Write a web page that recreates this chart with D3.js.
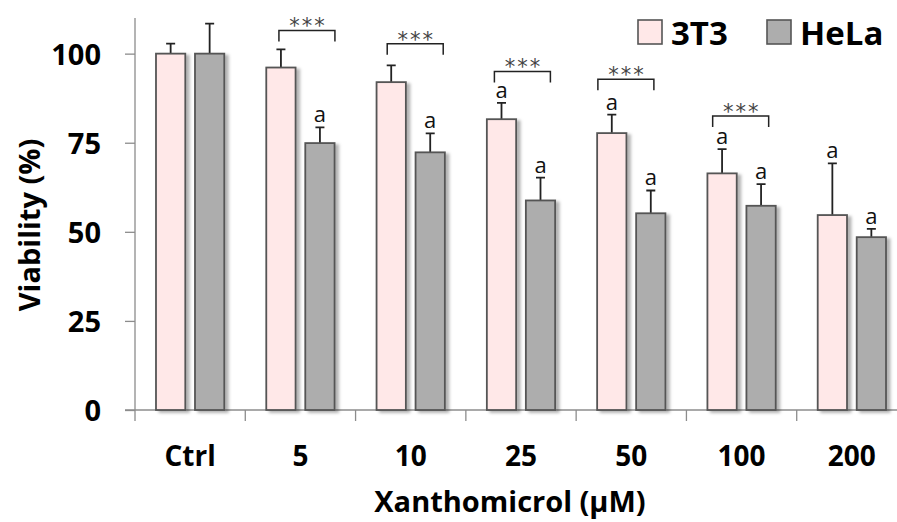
<!DOCTYPE html>
<html><head><meta charset="utf-8">
<script src="https://cdn.jsdelivr.net/npm/d3@7"></script>
<style>body{margin:0;background:#fff}svg{display:block}</style>
</head><body><svg id="c" width="897" height="522"></svg>
<script>
const categories = ["Ctrl","5","10","25","50","100","200"];
const seriesNames = ["3T3","HeLa"];
const mean3T3 = [100, 96.1, 92.0, 81.6, 77.7, 66.4, 54.7];
const err3T3  = [2.8, 5.1, 4.7, 4.6, 5.2, 6.8, 14.5];
const meanHeLa = [100, 74.9, 72.3, 58.8, 55.2, 57.3, 48.5];
const errHeLa  = [8.4, 4.4, 5.3, 6.4, 6.4, 6.1, 2.3];
const mark3T3  = ["", "", "", "a", "a", "a", "a"];
const markHeLa = ["", "a", "a", "a", "a", "a", "a"];
const sigCats  = ["5","10","25","50","100"];
const sigLevel = [106.5, 102.8, 95.0, 92.8, 82.5];
const sigLabel = ["***","***","***","***","***"];
const yTicks = [0, 25, 50, 75, 100];

// layout / style
const sigShift = [6.5, 4.5, 1.4, -5.4, -0.9];
const colors = ["#FFE8E8", "#ADADAD"];
const font = "'Open Sans', Lato, sans-serif";
const svg = d3.select("#c");
const x0 = 135, x1 = 907, yTop = 18, yBot = 410;
const x = d3.scaleBand().domain(categories).range([x0, x1]).paddingInner(0).paddingOuter(0);
const y = d3.scaleLinear().domain([0, 110]).range([yBot, yTop]);
const bw = 29.3, off = 19.5;

const defs = svg.append("defs");
const f = defs.append("filter").attr("id","sh").attr("x","-20%").attr("y","-5%").attr("width","160%").attr("height","110%");
f.append("feDropShadow").attr("dx",3.5).attr("dy",2).attr("stdDeviation",1.5).attr("flood-color","#000").attr("flood-opacity",0.3);

// y axis
const ya = svg.append("g").attr("transform",`translate(${x0},0)`)
  .call(d3.axisLeft(y).tickValues(yTicks).tickSize(10).tickPadding(24));
ya.select(".domain").attr("stroke","#8c8c8c").attr("stroke-width",1.3).attr("d",`M0,${yBot}V${yTop}`);
ya.selectAll(".tick line").attr("stroke","#8c8c8c").attr("stroke-width",1.3);
ya.selectAll(".tick text").attr("font-family",font).attr("font-weight","bold").attr("font-size",29).attr("fill","#000").attr("dy","0.36em");

// x axis
const xa = svg.append("g").attr("transform",`translate(0,${yBot})`)
  .call(d3.axisBottom(x).tickSize(0));
xa.select(".domain").attr("stroke","#8c8c8c").attr("stroke-width",1.3).attr("d",`M${x0-10},0H${x1}`);
xa.selectAll(".tick text").attr("font-family",font).attr("font-weight","bold").attr("font-size",28).attr("fill","#000")
  .attr("y",56).attr("dy",0);
svg.append("g").selectAll("line").data(categories).join("line")
  .attr("x1",d=>x(d)).attr("x2",d=>x(d)).attr("y1",yBot).attr("y2",yBot+11)
  .attr("stroke","#8c8c8c").attr("stroke-width",1.3);

const groups = [
  {m: mean3T3, e: err3T3, a: mark3T3, dx: -off, c: colors[0]},
  {m: meanHeLa, e: errHeLa, a: markHeLa, dx: off, c: colors[1]}
];
groups.forEach(g => {
  const cx = (i) => x(categories[i]) + x.bandwidth()/2 + g.dx;
  const gg = svg.append("g");
  gg.selectAll("path.err").data(g.m).join("path").attr("class","err")
    .attr("d",(d,i)=>`M${cx(i)},${y(d)}V${y(d+g.e[i])}M${cx(i)-4.5},${y(d+g.e[i])}H${cx(i)+4.5}`)
    .attr("stroke","#222").attr("stroke-width",1.8).attr("fill","none");
  gg.selectAll("rect").data(g.m).join("rect")
    .attr("x",(d,i)=>cx(i)-bw/2).attr("width",bw)
    .attr("y",d=>y(d)).attr("height",d=>yBot-y(d))
    .attr("fill",g.c).attr("stroke","#555").attr("stroke-width",1.8).attr("filter","url(#sh)");
  gg.selectAll("text").data(g.m).join("text")
    .attr("x",(d,i)=>cx(i)).attr("y",(d,i)=>y(d+g.e[i])-5)
    .attr("text-anchor","middle").attr("font-family",font).attr("font-size",22).attr("fill","#111")
    .text((d,i)=>g.a[i]);
});

// significance brackets
const sg = svg.append("g");
sigCats.forEach((c,i)=>{
  const cx = x(c) + x.bandwidth()/2 + sigShift[i];
  const yt = y(sigLevel[i]);
  sg.append("path").attr("d",`M${cx-28},${yt+11}V${yt}H${cx+28}V${yt+11}`)
    .attr("stroke","#222").attr("stroke-width",1.5).attr("fill","none");
  sg.append("text").attr("x",cx+1).attr("y",yt+3).attr("text-anchor","middle").attr("letter-spacing",2)
    .attr("font-family","'DejaVu Sans', sans-serif").attr("font-size",21).attr("fill","#444").text(sigLabel[i]);
});

// legend
const lg = svg.append("g");
const lx = [638, 767];
seriesNames.forEach((n,i)=>{
  lg.append("rect").attr("x",lx[i]).attr("y",20).attr("width",24).attr("height",24)
    .attr("fill",colors[i]).attr("stroke","#555").attr("stroke-width",1.6);
  lg.append("text").attr("x",lx[i]+33).attr("y",44.5).attr("font-family",font).attr("font-weight","bold")
    .attr("font-size",33).attr("fill","#000").text(n);
});

// axis titles
svg.append("text").attr("transform","translate(40,225) rotate(-90)").attr("text-anchor","middle")
  .attr("font-family",font).attr("font-weight","bold").attr("font-size",29).attr("fill","#000").text("Viability (%)");
svg.append("text").attr("x",510).attr("y",512).attr("text-anchor","middle")
  .attr("font-family",font).attr("font-weight","bold").attr("font-size",29).attr("fill","#000").text("Xanthomicrol (μM)");
</script></body></html>
